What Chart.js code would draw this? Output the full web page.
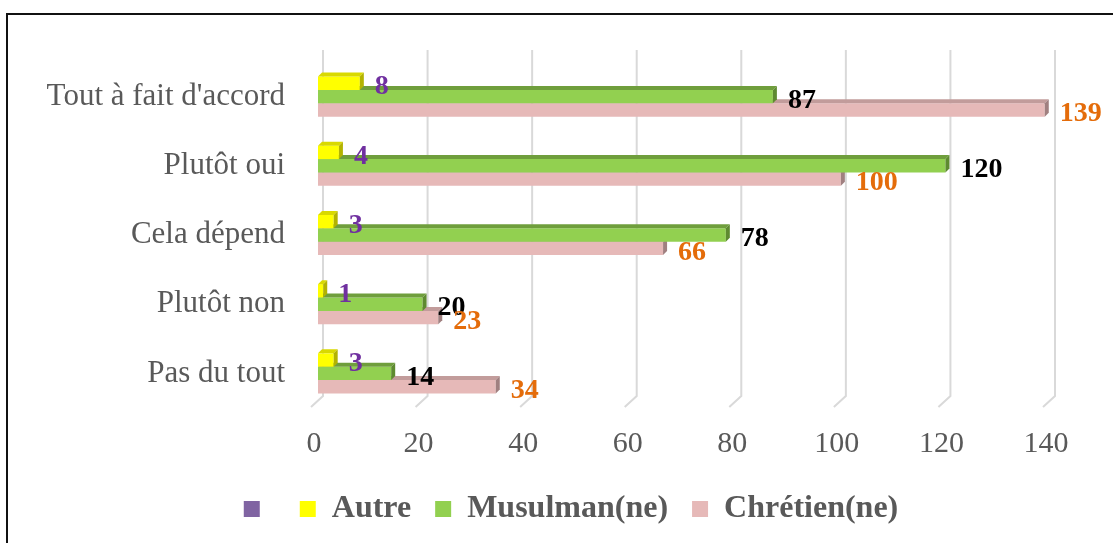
<!DOCTYPE html>
<html>
<head>
<meta charset="utf-8">
<script src="https://cdn.jsdelivr.net/npm/chart.js@4.4.1/dist/chart.umd.min.js"></script>
<style>
  html, body { margin: 0; padding: 0; background: #fff; overflow: hidden; }
  #wrap { position: relative; width: 1113px; height: 543px; }
  #frame { position: absolute; left: 6px; top: 13px; width: 2000px; height: 2000px;
           border-left: 2px solid #111; border-top: 2px solid #111; pointer-events: none; }
  canvas { position: absolute; left: 0; top: 0; }
</style>
</head>
<body>
<div id="wrap">
  <canvas id="c" width="1113" height="543"></canvas>
  <div id="frame"></div>
</div>
<script>
// ---- data ----
const categories = ["Tout à fait d'accord", "Plutôt oui", "Cela dépend", "Plutôt non", "Pas du tout"];
const seriesNames = ["Autre", "Musulman(ne)", "Chrétien(ne)"];
const autre = [8, 4, 3, 1, 3];
const musulman = [87, 120, 78, 20, 14];
const chretien = [139, 100, 66, 23, 34];
const xTicks = [0, 20, 40, 60, 80, 100, 120, 140];

// ---- styles ----
const FONT = "'Liberation Serif', 'Times New Roman', serif";
const fills = ["#FFFF00", "#92D050", "#E6B9B8"];
const topFaces = ["#D9D900", "#6F9E3C", "#C29C9B"];
const sideFaces = ["#B3B300", "#5E8A30", "#A08080"];
const labelColors = ["#7030A0", "#000000", "#E46C0A"];
const emptyLegendColor = "#8064A2";

const depth = 4;

const gridPlugin = {
  id: 'grid3d',
  beforeDatasetsDraw(chart) {
    const ctx = chart.ctx;
    const xs = chart.scales.x;
    ctx.save();
    ctx.strokeStyle = '#D9D9D9';
    ctx.lineWidth = 2;
    xTicks.forEach(v => {
      const px = xs.getPixelForValue(v) + 5;
      ctx.beginPath();
      ctx.moveTo(px, 50);
      ctx.lineTo(px, 396);
      ctx.lineTo(px - 12, 407);
      ctx.stroke();
    });
    ctx.restore();
  }
};

const barFacePlugin = {
  id: 'bar3d',
  afterDatasetDraw(chart, args) {
    const ctx = chart.ctx;
    const i = args.index;
    ctx.save();
    args.meta.data.forEach(el => {
      const p = el.getProps(['x', 'y', 'base', 'height'], true);
      const l = Math.min(p.base, p.x), r = Math.max(p.base, p.x);
      const t = p.y - p.height / 2, b = p.y + p.height / 2;
      ctx.fillStyle = topFaces[i];
      ctx.beginPath();
      ctx.moveTo(l, t); ctx.lineTo(r, t); ctx.lineTo(r + depth, t - depth); ctx.lineTo(l + depth, t - depth);
      ctx.closePath(); ctx.fill();
      ctx.fillStyle = sideFaces[i];
      ctx.beginPath();
      ctx.moveTo(r, t); ctx.lineTo(r + depth, t - depth); ctx.lineTo(r + depth, b - depth); ctx.lineTo(r, b);
      ctx.closePath(); ctx.fill();
    });
    ctx.restore();
  }
};

const labelPlugin = {
  id: 'valueLabels',
  afterDatasetsDraw(chart) {
    const ctx = chart.ctx;
    ctx.save();
    ctx.font = "bold 28px " + FONT;
    ctx.textAlign = 'left';
    ctx.textBaseline = 'middle';
    chart.data.datasets.forEach((ds, i) => {
      const meta = chart.getDatasetMeta(i);
      ctx.fillStyle = labelColors[i];
      meta.data.forEach((el, j) => {
        const p = el.getProps(['x', 'y'], true);
        ctx.fillText(String(ds.data[j]), p.x + 15, p.y + 4);
      });
    });
    ctx.restore();
  }
};

// shift the bottom legend so that it sits where the original one does
const legendShift = {
  id: 'legendShift',
  afterLayout(chart) {
    const lg = chart.legend;
    if (lg) { lg.left += 28; lg.right += 28; }
  }
};

const seriesData = [autre, musulman, chretien];

new Chart(document.getElementById('c'), {
  type: 'bar',
  data: {
    labels: categories,
    datasets: seriesNames.map((n, i) => ({
      label: n,
      data: seriesData[i],
      backgroundColor: fills[i],
      borderWidth: 0,
      categoryPercentage: 0.58,
      barPercentage: 1.0
    }))
  },
  options: {
    indexAxis: 'y',
    responsive: false,
    animation: false,
    layout: { padding: { left: 36, right: 63, top: 62, bottom: 8 } },
    scales: {
      x: {
        min: 0, max: 140,
        grid: { display: false },
        border: { display: false },
        ticks: {
          stepSize: 20,
          padding: 10,
          labelOffset: -4,
          color: '#595959',
          font: { family: FONT, size: 30 }
        },
        afterFit(s) { s.height = 61; }
      },
      y: {
        grid: { display: false },
        border: { display: false },
        ticks: {
          padding: 25,
          color: '#595959',
          font: { family: FONT, size: 31 }
        },
        afterFit(s) { s.width = 282; }
      }
    },
    plugins: {
      tooltip: { enabled: false },
      legend: {
        position: 'bottom',
        labels: {
          boxWidth: 16,
          boxHeight: 16,
          padding: 24,
          color: '#595959',
          font: { family: FONT, size: 32, weight: 'bold' },
          generateLabels(chart) {
            const items = Chart.defaults.plugins.legend.labels.generateLabels(chart);
            items.forEach(it => { it.lineWidth = 0; });
            items.unshift({ text: '', fillStyle: emptyLegendColor, strokeStyle: emptyLegendColor,
                            lineWidth: 0, hidden: false, datasetIndex: -1, fontColor: '#595959' });
            return items;
          }
        }
      }
    }
  },
  plugins: [gridPlugin, barFacePlugin, labelPlugin, legendShift]
});
</script>
</body>
</html>
